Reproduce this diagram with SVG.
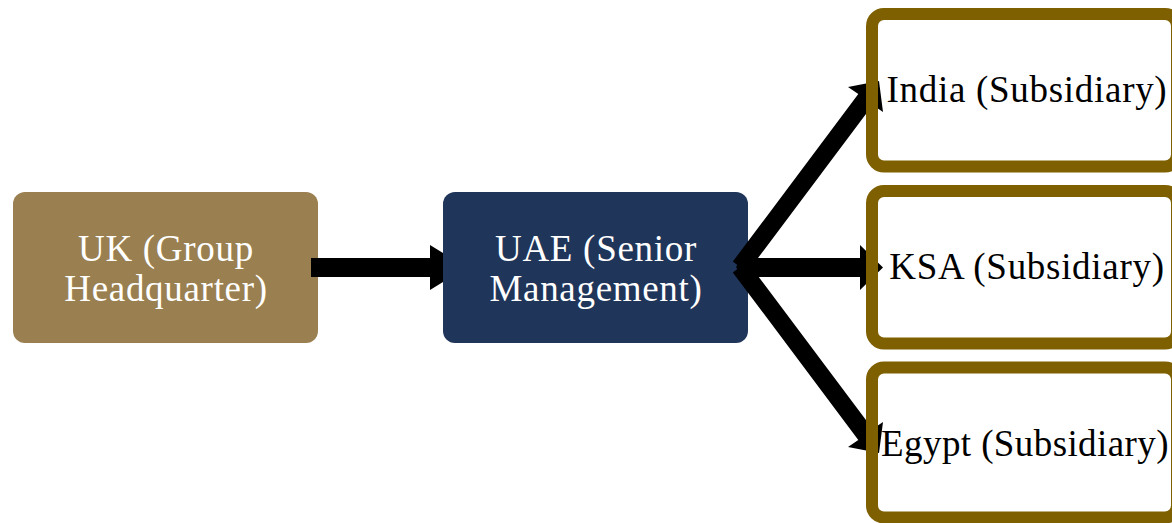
<svg xmlns="http://www.w3.org/2000/svg" width="1172" height="523" viewBox="0 0 1172 523">
<style>
.lbl{font-family:"Liberation Serif","Times New Roman",serif;font-size:37px;letter-spacing:0.7px;text-anchor:middle}
.w{fill:#ffffff}
.k{fill:#000000}
.sub{fill:none;stroke:#7F6000;stroke-width:12}
.conn{fill:#000000}
</style>
<rect width="1172" height="523" fill="#ffffff"/>
<g id="uk">
<rect x="13" y="192" width="305" height="151" rx="12" fill="#9A7F50"/>
<text class="lbl w" x="166" y="261">UK (Group</text>
<text class="lbl w" x="166" y="301">Headquarter)</text>
</g>
<g id="uae">
<rect x="443" y="192" width="305" height="151" rx="12" fill="#1F3559"/>
<text class="lbl w" x="596" y="261">UAE (Senior</text>
<text class="lbl w" x="596" y="301">Management)</text>
</g>
<g id="connectors">
<polygon class="conn" points="311,258 430,258 430,245 443,253 443,282 430,290 430,277 311,277"/>
<polygon class="conn" points="738,258 860,258 860,245 883,267.5 860,290 860,277 738,277"/>
<polygon class="conn" points="732.8,261.6 858.3,94.1 848,87 879,81 883,112 872.7,104.9 747.2,272.4"/>
<polygon class="conn" points="732.8,272.4 858.3,439.9 848,447 879,453 883,422 872.7,429.1 747.2,261.6"/>
<polygon class="conn" points="736,267 742,258 742,276"/>
</g>
<g id="india">
<rect class="sub" x="872" y="14" width="305" height="152.5" rx="12"/>
<text class="lbl k" x="1027" y="102">India (Subsidiary)</text>
</g>
<g id="ksa">
<rect class="sub" x="872" y="191" width="305" height="152.5" rx="12"/>
<text class="lbl k" x="1027" y="279">KSA (Subsidiary)</text>
</g>
<g id="egypt">
<rect class="sub" x="872" y="367.5" width="305" height="150" rx="12"/>
<text class="lbl k" x="1025" y="456" style="letter-spacing:0.4px">Egypt (Subsidiary)</text>
</g>
</svg>
